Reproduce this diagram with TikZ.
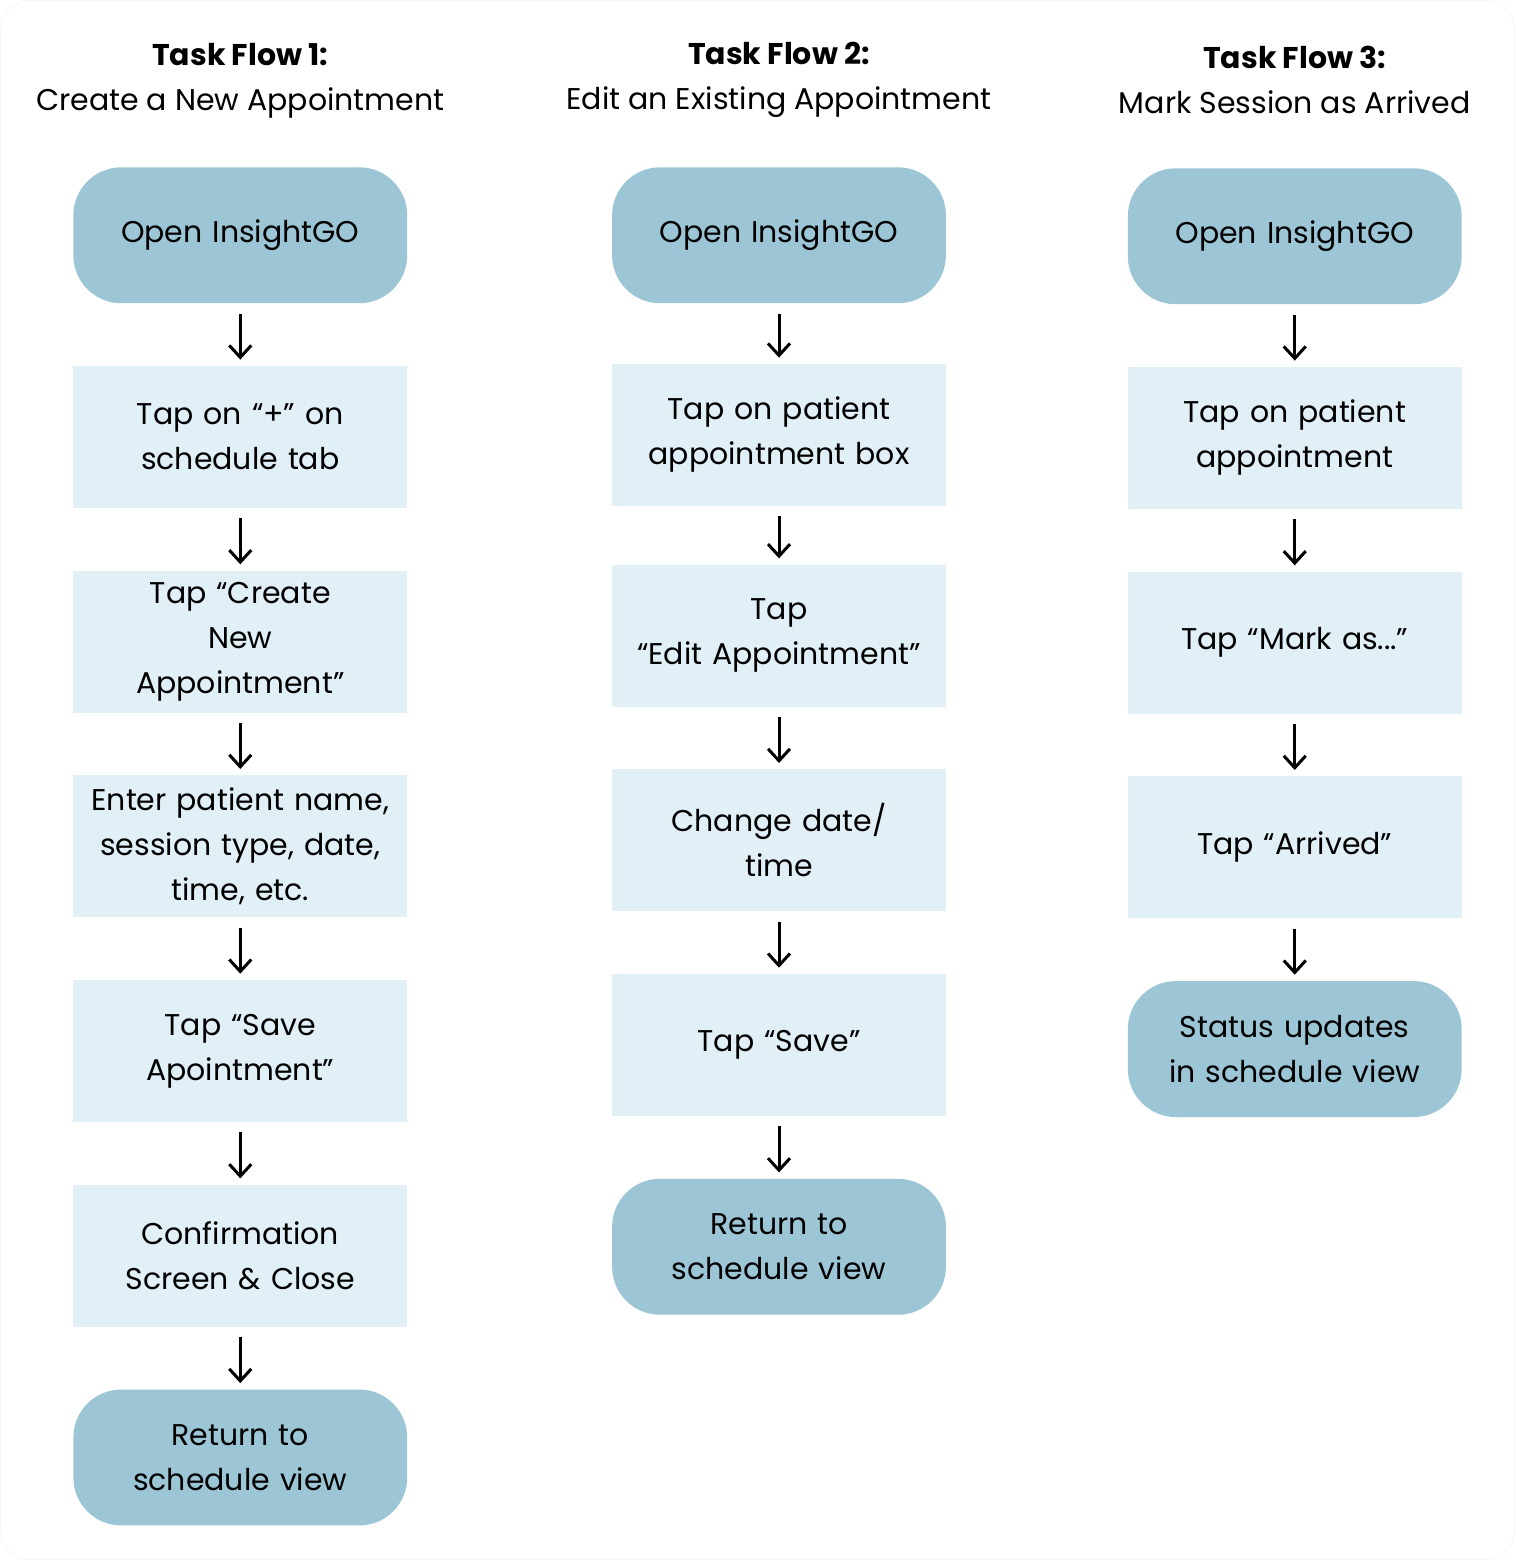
\documentclass[tikz,border=0pt]{standalone}
\usepackage{fontspec}
\setmainfont{Poppins}
\usetikzlibrary{positioning,arrows.meta}
\definecolor{endfill}{HTML}{9CC6D6}
\definecolor{taskfill}{HTML}{E1EFF6}
\begin{document}
\begin{tikzpicture}[x=0.5pt,y=-0.5pt,node distance=31pt,
  font=\fontsize{15}{22.5}\selectfont,
  ends/.style={rectangle,rounded corners=24pt,fill=endfill,minimum width=167pt,minimum height=68pt,text width=160pt,align=center,inner sep=0pt},
  task/.style={rectangle,fill=taskfill,minimum width=167pt,minimum height=71pt,text width=160pt,align=center,inner sep=0pt},
  flow/.style={-{Straight Barb[length=6pt,width=11pt,line width=1.5pt]},line width=1.5pt,shorten <=5pt,shorten >=3pt},
  title/.style={align=center,font=\fontsize{15}{22.5}\selectfont}]
   \path[use as bounding box,fill=white,draw=gray!8,rounded corners=15pt] (0,0) rectangle (1515,1560);
   % titles
   \node[title] (t1) at (240,80) {\textbf{Task Flow 1:}\\Create a New Appointment};
   \node[title] (t2) at (779,80) {\textbf{Task Flow 2:}\\Edit an Existing Appointment};
   \node[title] (t3) at (1295,80) {\textbf{Task Flow 3:}\\Mark Session as Arrived};
   % flow 1
   \node[ends] (a0) at (240,235)       {Open InsightGO};
   \node[task] (a1) [below=of a0]      {Tap on “+” on\\schedule tab};
   \node[task] (a2) [below=of a1]      {Tap “Create\\New\\Appointment”};
   \node[task] (a3) [below=of a2]      {Enter patient name,\\session type, date,\\time, etc.};
   \node[task] (a4) [below=of a3]      {Tap “Save\\Apointment”};
   \node[task] (a5) [below=of a4]      {Confirmation\\Screen \& Close};
   \node[ends] (a6) [below=of a5]      {Return to\\schedule view};
   % flow 2
   \node[ends] (b0) at (779,235)       {Open InsightGO};
   \node[task] (b1) [below=30pt of b0] {Tap on patient\\appointment box};
   \node[task] (b2) [below=29pt of b1] {Tap\\“Edit Appointment”};
   \node[task] (b3) [below=of b2]      {Change date/\\time};
   \node[task] (b4) [below=of b3]      {Tap “Save”};
   \node[ends] (b5) [below=of b4]      {Return to\\schedule view};
   % flow 3
   \node[ends] (c0) at (1295,236)      {Open InsightGO};
   \node[task] (c1) [below=of c0]      {Tap on patient\\appointment};
   \node[task] (c2) [below=of c1]      {Tap “Mark as...”};
   \node[task] (c3) [below=of c2]      {Tap “Arrived”};
   \node[ends] (c4) [below=of c3]      {Status updates\\in schedule view};
    \path[flow]
    (a0) edge (a1)  (a1) edge (a2)  (a2) edge (a3)
    (a3) edge (a4)  (a4) edge (a5)  (a5) edge (a6)
    (b0) edge (b1)  (b1) edge (b2)  (b2) edge (b3)
    (b3) edge (b4)  (b4) edge (b5)
    (c0) edge (c1)  (c1) edge (c2)  (c2) edge (c3)
    (c3) edge (c4);
\end{tikzpicture}
\end{document}
